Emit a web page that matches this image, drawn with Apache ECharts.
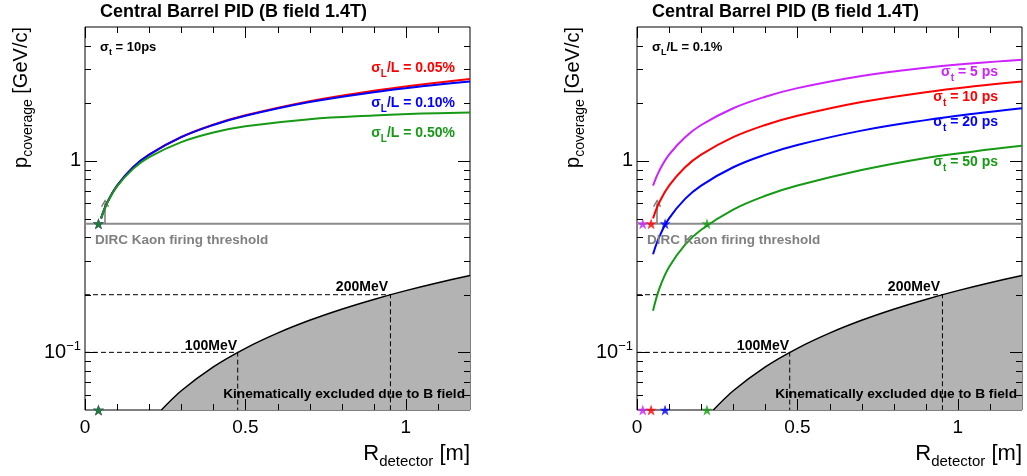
<!DOCTYPE html>
<html>
<head>
<meta charset="utf-8">
<title>Central Barrel PID</title>
<script src="https://cdn.jsdelivr.net/npm/echarts@6.0.0/dist/echarts.min.js"></script>
<style>
  html, body { margin: 0; padding: 0; background: #fff; }
  #chart { width: 1027px; height: 476px; }
</style>
</head>
<body>
<div id="chart"></div>
<script>
var rGrid = [0.05, 0.07, 0.1, 0.15, 0.2, 0.3, 0.4, 0.5, 0.7, 0.9, 1.05, 1.2];

// left pad: sigma_t = 10 ps, three sigma_L/L
var pSigL005 = [0.501, 0.610, 0.743, 0.927, 1.079, 1.332, 1.545, 1.730, 2.050, 2.323, 2.506, 2.675];
var pSigL010 = [0.501, 0.610, 0.743, 0.926, 1.078, 1.329, 1.539, 1.719, 2.028, 2.283, 2.451, 2.600];
var pSigL050 = [0.499, 0.606, 0.736, 0.908, 1.045, 1.252, 1.405, 1.515, 1.650, 1.725, 1.765, 1.790];

// right pad: sigma_L/L = 0.1%, four sigma_t
var pSigT5  = [0.743, 0.892, 1.078, 1.329, 1.539, 1.882, 2.161, 2.397, 2.775, 3.062, 3.233, 3.375];
var pSigT10 = [0.501, 0.610, 0.743, 0.926, 1.078, 1.329, 1.539, 1.719, 2.028, 2.283, 2.451, 2.600];
var pSigT20 = [0.325, 0.403, 0.501, 0.633, 0.743, 0.926, 1.078, 1.210, 1.438, 1.632, 1.762, 1.882];
var pSigT50 = [0.165, 0.216, 0.279, 0.365, 0.437, 0.557, 0.657, 0.743, 0.895, 1.035, 1.120, 1.198];

// R where each curve hits the DIRC threshold (stars)
var starLeftR = [0.042, 0.042, 0.042];
var starRightR = [0.018, 0.044, 0.0875, 0.218];

var dircThreshold = 0.47;
var arrowR = 0.0625;
var arrowP = [0.47, 0.6];

// kinematic limit from the B field (shaded)
var bLimitR = [0.238, 0.3, 0.4, 0.5, 0.6, 0.7, 0.8, 0.9, 1.0, 1.1, 1.2];
var bLimitP = [0.05, 0.063, 0.084, 0.105, 0.126, 0.147, 0.168, 0.189, 0.21, 0.231, 0.252];

var guideP = [0.1, 0.2];       // 100MeV, 200MeV
var guideR = [0.476, 0.952];

var xRange = [0, 1.2];
var yRange = [0.05, 5];
var xMajorTicks = [0, 0.5, 1];
var xMinorTicks = [0.1, 0.2, 0.3, 0.4, 0.6, 0.7, 0.8, 0.9, 1.1];
var yMajorTicks = [0.1, 1];
var yMinorTicks = [0.06, 0.07, 0.08, 0.09, 0.2, 0.3, 0.4, 0.5, 0.6, 0.7, 0.8, 0.9, 2, 3, 4];

var FONT = '"Liberation Sans", Arial, Helvetica, sans-serif';
var RED = '#ff0000', BLUE = '#0000ff', GREEN = '#169a16', VIOLET = '#cc22ff';
var STAR = 'path://M50,0 L61.8,35.3 L97.6,34.5 L69.1,56.2 L79.4,90.5 L50,70 L20.6,90.5 L30.9,56.2 L2.4,34.5 L38.2,35.3 Z';
var CHEVRON = 'path://M0,0 L6,7 L4.6,8.2 L0,2.8 L-4.6,8.2 L-6,7 Z';

var panels = [
    { left: 85, curves: [[pSigL005, RED], [pSigL010, BLUE], [pSigL050, GREEN]],
      starR: starLeftR, starColors: [RED, BLUE, GREEN] },
    { left: 637, curves: [[pSigT5, VIOLET], [pSigT10, RED], [pSigT20, BLUE], [pSigT50, GREEN]],
      starR: starRightR, starColors: [VIOLET, RED, BLUE, GREEN] }
];
var gridTop = 27, gridW = 385, gridH = 383;

function pairs(xs, ys) {
    return xs.map(function (x, i) { return [x, ys[i]]; });
}

function panelSeries(k, panel) {
    var s = [];
    // kinematically excluded region
    s.push({ type: 'line', xAxisIndex: k, yAxisIndex: k, data: pairs(bLimitR, bLimitP),
        symbol: 'none', smooth: 0.3, lineStyle: { color: '#000', width: 1.5 },
        areaStyle: { color: '#b3b3b3', opacity: 1, origin: 'start' }, z: 1 });
    // dashed 100 / 200 MeV guides
    guideP.forEach(function (p, i) {
        s.push({ type: 'line', xAxisIndex: k, yAxisIndex: k, symbol: 'none',
            data: [[xRange[0], p], [guideR[i], p], [guideR[i], yRange[0]]],
            lineStyle: { color: '#000', width: 1, type: [5, 3] }, z: 3 });
    });
    // DIRC threshold
    s.push({ type: 'line', xAxisIndex: k, yAxisIndex: k, symbol: 'none',
        data: [[xRange[0], dircThreshold], [xRange[1], dircThreshold]],
        lineStyle: { color: '#8c8c8c', width: 2 }, z: 3 });
    s.push({ type: 'lines', coordinateSystem: 'cartesian2d', xAxisIndex: k, yAxisIndex: k,
        data: [{ coords: [[arrowR, arrowP[0]], [arrowR, arrowP[1]]] }],
        symbol: ['none', CHEVRON], symbolSize: [8, 8],
        lineStyle: { color: '#777', width: 1.5, opacity: 1 }, z: 4 });
    panel.curves.forEach(function (c) {
        s.push({ type: 'line', xAxisIndex: k, yAxisIndex: k, data: pairs(rGrid, c[0]),
            symbol: 'none', smooth: 0.4,
            lineStyle: { color: c[1], width: 2 }, z: 5 });
    });
    var stars = [];
    panel.starR.forEach(function (r, i) {
        var col = panel.starColors[i];
        stars.push({ value: [r, dircThreshold], itemStyle: { color: col } });
        stars.push({ value: [r, yRange[0]], itemStyle: { color: col } });
    });
    s.push({ type: 'scatter', xAxisIndex: k, yAxisIndex: k, data: stars, symbol: STAR,
        symbolSize: 11, clip: false, z: 6 });
    return s;
}

function textEl(x, y, text, opt) {
    var size = opt.size || 14;
    var subSize = Math.round(size * 0.68);
    var weight = opt.weight || 'bold';
    var color = opt.color || '#000';
    return {
        type: 'text', x: x, y: y, z: 100, rotation: opt.rotation || 0, silent: true,
        style: {
            text: text, fill: color, align: opt.align || 'left', verticalAlign: 'middle',
            fontFamily: FONT, fontSize: size, fontWeight: weight, lineHeight: size + 8,
            rich: {
                s: { fontFamily: FONT, fontSize: subSize, fontWeight: weight, fill: color,
                     verticalAlign: 'bottom', lineHeight: subSize }
            }
        }
    };
}

var graphics = [];
panels.forEach(function (p, k) {
    var ox = p.left, right = p.left + gridW;
    graphics.push(textEl(ox + 15, 12, 'Central Barrel PID (B field 1.4T)', { size: 18 }));
    graphics.push(textEl(ox - 64, gridTop, 'p{s|coverage} [GeV/c]',
        { size: 20, weight: 'normal', align: 'right', rotation: Math.PI / 2 }));
    graphics.push(textEl(right, 454, 'R{s|detector} [m]', { size: 22, weight: 'normal', align: 'right' }));
    graphics.push(textEl(ox + 10, 240, 'DIRC Kaon firing threshold', { size: 13.5, color: '#808080' }));
    graphics.push(textEl(ox + 152, 346, '100MeV', { size: 14, align: 'right' }));
    graphics.push(textEl(ox + 303, 287, '200MeV', { size: 14, align: 'right' }));
    graphics.push(textEl(right - 5, 394, 'Kinematically excluded due to B field', { size: 13.7, align: 'right' }));
});
// left pad notes
graphics.push(textEl(100, 47, '\u03c3{s|t} = 10ps', { size: 13 }));
graphics.push(textEl(455, 68, '\u03c3{s|L}/L = 0.05%', { size: 14, align: 'right', color: RED }));
graphics.push(textEl(455, 103, '\u03c3{s|L}/L = 0.10%', { size: 14, align: 'right', color: BLUE }));
graphics.push(textEl(455, 133, '\u03c3{s|L}/L = 0.50%', { size: 14, align: 'right', color: GREEN }));
// right pad notes
graphics.push(textEl(652, 47, '\u03c3{s|L}/L = 0.1%', { size: 13 }));
graphics.push(textEl(998, 72, '\u03c3{s|t} = 5 ps', { size: 14, align: 'right', color: VIOLET }));
graphics.push(textEl(998, 97, '\u03c3{s|t} = 10 ps', { size: 14, align: 'right', color: RED }));
graphics.push(textEl(998, 122, '\u03c3{s|t} = 20 ps', { size: 14, align: 'right', color: BLUE }));
graphics.push(textEl(998, 162, '\u03c3{s|t} = 50 ps', { size: 14, align: 'right', color: GREEN }));

var series = [];
panels.forEach(function (p, k) { series = series.concat(panelSeries(k, p)); });

var option = {
    animation: false,
    backgroundColor: '#fff',
    grid: panels.map(function (p) {
        return { left: p.left, top: gridTop, width: gridW, height: gridH, show: true,
            borderColor: '#000', borderWidth: 1, backgroundColor: 'transparent',
            containLabel: false, outerBoundsMode: 'none' };
    }),
    xAxis: panels.map(function (p, k) {
        return {
            type: 'value', gridIndex: k, min: xRange[0], max: xRange[1], interval: 0.5,
            axisLine: { show: false }, axisTick: { show: false }, splitLine: { show: false },
            axisLabel: {
                color: '#000', fontFamily: FONT, fontSize: 19, margin: 8, showMaxLabel: false,
                formatter: function (v) { return v > 1.1 ? '' : String(v); }
            }
        };
    }),
    yAxis: panels.map(function (p, k) {
        return {
            type: 'log', logBase: 10, gridIndex: k, min: yRange[0], max: yRange[1],
            axisLine: { show: false }, axisTick: { show: false }, splitLine: { show: false },
            axisLabel: {
                color: '#000', fontFamily: FONT, fontSize: 20, margin: 4, lineHeight: 24,
                formatter: function (v) {
                    if (Math.abs(v - 1) < 1e-6) return '1';
                    if (Math.abs(v - 0.1) < 1e-7) return '10{sup|\u22121}';
                    return '';
                },
                rich: { sup: { fontSize: 13, verticalAlign: 'top', lineHeight: 13 } }
            }
        };
    }),
    series: series
};

var myChart = echarts.init(document.getElementById('chart'));
myChart.setOption(option);

// frame ticks, placed through the axes of each grid
panels.forEach(function (p, k) {
    var finder = { gridIndex: k };
    var lo = myChart.convertToPixel(finder, [xRange[0], yRange[0]]);
    var hi = myChart.convertToPixel(finder, [xRange[1], yRange[1]]);
    function seg(x1, y1, x2, y2) {
        graphics.push({ type: 'line', silent: true, z: 50,
            shape: { x1: x1, y1: y1, x2: x2, y2: y2 },
            style: { stroke: '#000', lineWidth: 1 } });
    }
    xMajorTicks.concat(xMinorTicks).forEach(function (v, i) {
        var len = i < xMajorTicks.length ? 11 : 6;
        var x = Math.round(myChart.convertToPixel(finder, [v, yRange[0]])[0]) + 0.5;
        seg(x, lo[1], x, lo[1] - len);
        seg(x, hi[1], x, hi[1] + len);
    });
    yMajorTicks.concat(yMinorTicks).forEach(function (v, i) {
        var len = i < yMajorTicks.length ? 12 : 6;
        var y = Math.round(myChart.convertToPixel(finder, [xRange[0], v])[1]) + 0.5;
        seg(lo[0], y, lo[0] + len, y);
        seg(hi[0], y, hi[0] - len, y);
    });
});

myChart.setOption({ graphic: graphics });
</script>
</body>
</html>
